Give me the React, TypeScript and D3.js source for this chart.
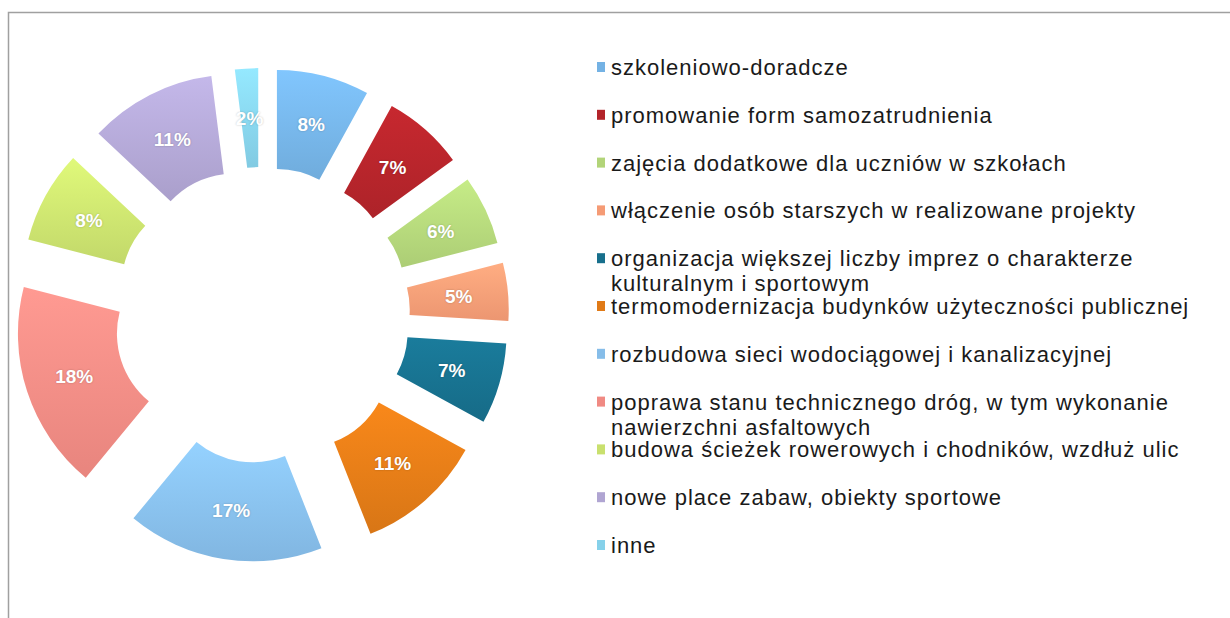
import { useEffect, useRef } from "react";
import * as d3 from "d3";

const categories = [
  "szkoleniowo-doradcze",
  "promowanie form samozatrudnienia",
  "zajęcia dodatkowe dla uczniów w szkołach",
  "włączenie osób starszych w realizowane projekty",
  "organizacja większej liczby imprez o charakterze|kulturalnym i sportowym",
  "termomodernizacja budynków użyteczności publicznej",
  "rozbudowa sieci wodociągowej i kanalizacyjnej",
  "poprawa stanu technicznego dróg, w tym wykonanie|nawierzchni asfaltowych",
  "budowa ścieżek rowerowych i chodników, wzdłuż ulic",
  "nowe place zabaw, obiekty sportowe",
  "inne",
];
const values = [8, 7, 6, 5, 7, 11, 17, 18, 8, 11, 2];
const colors = [
  "#74b2e4", "#b3242a", "#b2d479", "#f59b75", "#176f8c", "#e07a17",
  "#86bde9", "#f08a83", "#c9e06e", "#b0a5d2", "#86d1ea",
];

export default function App() {
  const svgRef = useRef<SVGSVGElement>(null);

  useEffect(() => {
    const svg = d3.select(svgRef.current);
    svg.selectAll("*").remove();

    // frame (left + top only)
    svg.append("path")
      .attr("d", "M8.5,618 L8.5,12.5 L1230,12.5")
      .attr("fill", "none")
      .attr("stroke", "#a0a0a0")
      .attr("stroke-width", 1.5);

    const cx = 262, cy = 315;
    const inner = 88, outer = 187, explode = 60;

    const defs = svg.append("defs");
    colors.forEach((c, i) => {
      const g = defs.append("linearGradient")
        .attr("id", "grad" + i)
        .attr("x1", 0).attr("y1", 0).attr("x2", 0).attr("y2", 1);
      g.append("stop").attr("offset", "0%").attr("stop-color", d3.color(c)!.brighter(0.3).formatHex());
      g.append("stop").attr("offset", "100%").attr("stop-color", d3.color(c)!.darker(0.1).formatHex());
    });

    const pie = d3.pie<number>().sort(null).value(d => d);
    const arcs = pie(values);
    const arc = d3.arc<d3.PieArcDatum<number>>().innerRadius(inner).outerRadius(outer);

    const wrap = svg.append("g").attr("transform", `translate(${cx},${cy})`);

    const slices = wrap.selectAll("g.slice")
      .data(arcs)
      .join("g")
      .attr("class", "slice")
      .attr("transform", d => {
        const a = (d.startAngle + d.endAngle) / 2;
        return `translate(${explode * Math.sin(a)},${-explode * Math.cos(a)})`;
      });

    slices.append("path")
      .attr("d", arc)
      .attr("fill", (d, i) => `url(#grad${i})`);

    slices.append("text")
      .attr("transform", d => {
        const a = (d.startAngle + d.endAngle) / 2;
        const r = (inner + outer) / 2;
        return `translate(${r * Math.sin(a)},${-r * Math.cos(a)})`;
      })
      .attr("text-anchor", "middle")
      .attr("dy", "0.36em")
      .attr("fill", "#ffffff")
      .attr("font-family", "Liberation Sans, Arial, sans-serif")
      .attr("font-weight", 700)
      .attr("font-size", 19)
      .style("text-shadow", "0 0 2px rgba(0,0,0,0.25)")
      .text(d => d.data + "%");

    // legend
    const legend = svg.append("g");
    const rowY = d3.scaleLinear().domain([0, 10]).range([67, 545]);
    categories.forEach((label, i) => {
      const y = rowY(i);
      legend.append("rect")
        .attr("x", 597).attr("y", y - 5)
        .attr("width", 8).attr("height", 10)
        .attr("fill", colors[i]);
      label.split("|").forEach((line, j) => {
        legend.append("text")
          .attr("x", 611)
          .attr("y", y + j * 25)
          .attr("dy", "0.36em")
          .attr("fill", "#1a1a1a")
          .attr("font-family", "Liberation Sans, Arial, sans-serif")
          .attr("font-size", 22)
          .attr("letter-spacing", 1)
          .text(line);
      });
    });
  }, []);

  return (
    <div style={{ position: "absolute", left: 0, top: 0 }}>
      <svg ref={svgRef} style={{ width: 1230, height: 618, display: "block", background: "#fff" }} />
    </div>
  );
}
